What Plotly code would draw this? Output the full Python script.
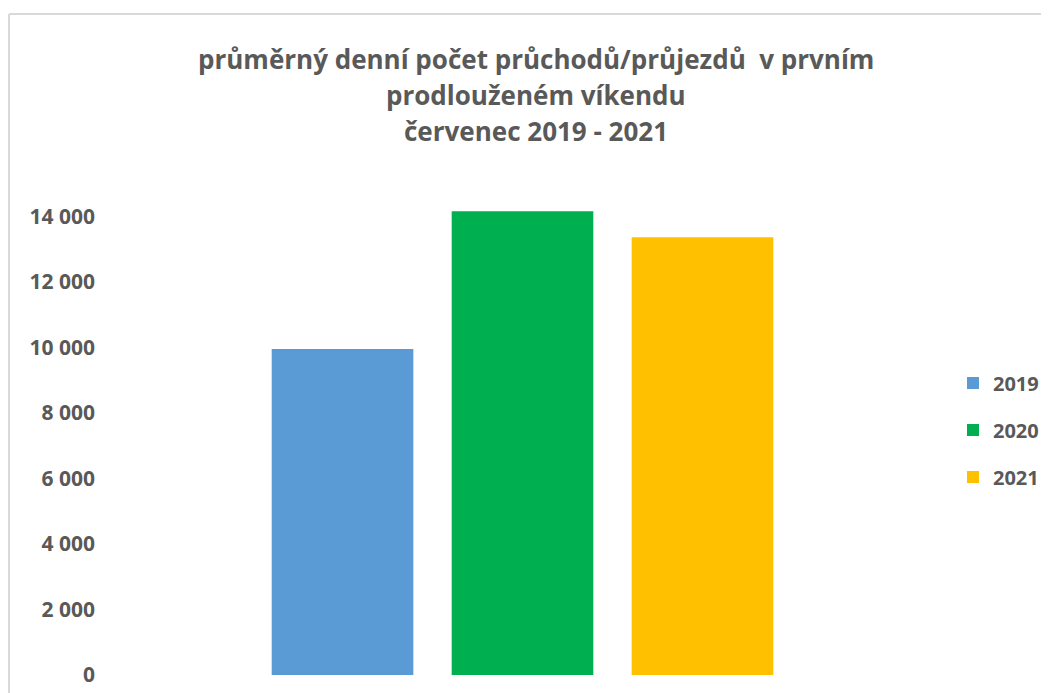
import plotly.graph_objects as go

series_names = ["2019", "2020", "2021"]
values = [9950, 14160, 13360]
colors = ["#5B9BD5", "#00B050", "#FFC000"]
category = [""]
y_ticks = [0, 2000, 4000, 6000, 8000, 10000, 12000, 14000]

title_lines = [
    "průměrný denní počet průchodů/průjezdů  v prvním",
    "prodlouženém víkendu",
    "červenec 2019 - 2021",
]

FONT = "Open Sans"
GRAY = "#595959"

OFF = 8  # page body margin
W, H = 1049 - 2 * OFF, 693 - OFF
L, T = 100 - OFF, 200 - OFF
R = W - (945 - OFF)
B = H - (675 - OFF)
pw, ph = W - L - R, H - T - B

fig = go.Figure()
for name, v, c in zip(series_names, values, colors):
    fig.add_trace(go.Bar(
        x=category, y=[v], name=name, marker=dict(color=c, line=dict(width=0)),
        legendgroup=name, hoverinfo="y+name",
    ))

def px_to_paper_x(px):
    return (px - OFF - L) / pw

def px_to_paper_y(py):
    return (H - B - (py - OFF)) / ph

fig.update_layout(
    width=W, height=H,
    margin=dict(l=L, r=R, t=T, b=B, autoexpand=False),
    paper_bgcolor="white", plot_bgcolor="white",
    barmode="group", bargap=0.361, bargroupgap=0.213,
    separators=", ",
    font=dict(family=FONT, color=GRAY),
    showlegend=True,
    legend=dict(
        x=px_to_paper_x(953), y=px_to_paper_y(430), xanchor="left", yanchor="middle",
        font=dict(family=FONT, size=20, color=GRAY, weight="bold"),
        tracegroupgap=18, itemwidth=30, bgcolor="rgba(0,0,0,0)",
    ),
    xaxis=dict(showticklabels=False, showline=False, showgrid=False, zeroline=False, ticks=""),
    yaxis=dict(
        range=[0, 14500], tickvals=y_ticks, tickformat=",d",
        showgrid=False, zeroline=False, showline=False, ticks="",
        tickfont=dict(family=FONT, size=21, color=GRAY, weight="bold"),
        ticklabelstandoff=4,
    ),
)

for i, line in enumerate(title_lines):
    fig.add_annotation(
        text=line, xref="paper", yref="paper",
        x=px_to_paper_x(536), y=px_to_paper_y(59 + 36 * i),
        xanchor="center", yanchor="middle", showarrow=False,
        font=dict(family=FONT, size=26, color=GRAY, weight="bold"),
    )

# chart border (top and left edges visible)
fig.add_shape(type="line", xref="paper", yref="paper",
              x0=px_to_paper_x(9), x1=px_to_paper_x(1060),
              y0=px_to_paper_y(14), y1=px_to_paper_y(14),
              line=dict(color="#D9D9D9", width=2))
fig.add_shape(type="line", xref="paper", yref="paper",
              x0=px_to_paper_x(9), x1=px_to_paper_x(9),
              y0=px_to_paper_y(14), y1=px_to_paper_y(700),
              line=dict(color="#D9D9D9", width=2))

fig.write_html("out.html")
